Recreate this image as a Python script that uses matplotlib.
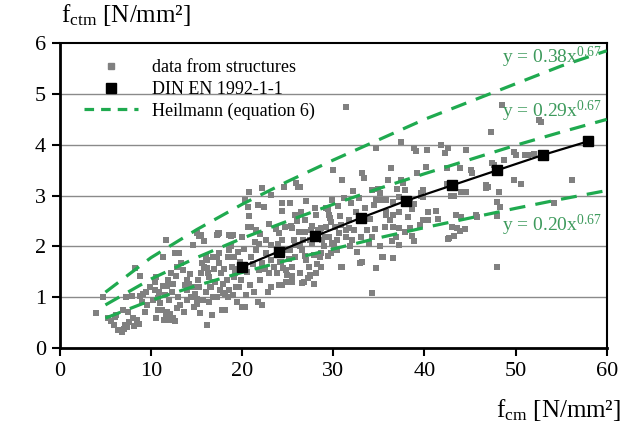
import numpy as np
import matplotlib
matplotlib.use('Agg')
import matplotlib.pyplot as plt
from matplotlib.lines import Line2D

plt.rcParams['font.family'] = ['Liberation Serif', 'DejaVu Serif']
plt.rcParams['mathtext.fontset'] = 'custom'
plt.rcParams['mathtext.rm'] = 'Liberation Serif'
plt.rcParams['mathtext.it'] = 'Liberation Serif'

# data from structures (fcm, fctm)
pts = [
    (4.0,0.69),(4.7,1.0),(5.3,0.59),(5.6,0.53),(6.2,0.65),(6.4,0.35),(6.8,0.32),(7.1,0.45),(7.4,0.42),(7.6,0.52),
    (8.0,0.59),(8.1,0.43),(8.5,0.55),(8.7,0.48),(9.3,0.71),(7.5,0.71),(7.3,1.0),(7.9,1.03),(8.8,1.03),(9.1,1.06),
    (8.2,1.57),(8.8,1.41),(9.9,1.2),(6.0,0.62),(6.9,0.75),(9.6,0.85),(9.0,0.9),(5.9,0.45),(7.0,0.38),(9.5,1.1),
    (10.4,1.14),(10.4,1.3),(10.6,1.4),(10.8,0.98),(10.8,0.75),(11.2,0.75),(11.6,0.65),(11.8,0.71),(12.0,0.56),(12.4,0.59),
    (12.6,0.53),(11.3,1.79),(11.7,2.12),(11.3,1.23),(11.8,1.23),(12.4,1.26),(12.2,1.47),(12.7,1.41),(12.6,1.87),(13.1,1.87),
    (12.9,1.6),(13.3,1.67),(13.5,1.54),(13.9,1.34),(13.9,1.14),(14.2,1.27),(14.4,1.0),(14.8,1.06),(10.2,0.95),(10.9,1.1),
    (11.5,1.05),(11.0,0.88),(12.0,0.95),(12.3,1.1),(13.0,1.0),(13.2,0.85),(12.8,0.78),(13.6,0.72),(14.0,0.95),(14.6,1.2),
    (14.3,1.45),(13.7,1.25),(11.9,1.35),(10.5,0.6),(11.4,0.55),(12.1,0.68),(14.7,0.8),
    (15.0,0.87),(15.1,0.97),(15.3,1.2),(15.5,1.47),(14.6,2.03),(15.0,2.26),(15.3,2.2),(15.8,2.1),(16.0,1.8),(15.6,1.67),
    (16.2,1.57),(16.4,1.4),(16.6,1.2),(16.8,1.0),(16.2,0.45),(17.2,2.22),(17.5,2.26),(17.2,1.8),(17.5,1.67),(17.7,1.47),
    (17.9,1.27),(18.1,1.06),(18.1,0.75),(18.4,1.8),(18.8,2.0),(18.9,1.6),(19.1,1.4),(19.3,1.2),(18.8,2.2),(17.8,0.75),
    (19.7,1.2),(19.2,1.47),(18.6,1.14),(17.9,1.08),(17.2,1.01),(16.5,1.2),(16.3,1.47),(15.8,1.6),(16.1,1.73),(16.8,1.8),
    (17.5,1.87),(18.6,1.93),(19.1,1.8),(19.8,1.7),(19.0,2.22),(17.3,2.26),(15.5,2.22),(17.4,2.25),(18.6,2.22),(15.2,1.35),
    (16.0,1.1),(16.9,1.55),(17.0,1.3),(18.3,1.35),(18.0,1.55),(19.5,1.55),(19.9,1.35),(19.4,0.9),(16.4,0.9),(15.7,0.95),
    (17.6,1.15),(18.5,1.0),(19.0,1.05),(19.6,1.9),(20.0,0.81),(16.7,0.65),(15.4,0.7),
    (20.8,3.07),(20.3,2.91),(20.6,2.78),(22.2,3.15),(21.7,2.81),(22.4,2.78),(23.2,3.01),(24.4,2.85),(24.4,2.69),(24.6,3.17),
    (21.0,2.38),(20.0,2.19),(21.5,2.32),(22.6,2.12),(23.2,2.03),(24.0,2.26),(24.7,2.38),(21.9,1.54),(22.2,1.67),(23.0,1.47),
    (23.2,1.21),(24.0,1.24),(24.8,1.31),(24.8,1.53),(22.2,0.85),(21.7,0.91),(20.3,0.81),(21.0,1.8),(21.5,1.93),(22.6,1.87),
    (23.2,1.73),(24.0,1.87),(24.9,1.93),(24.3,1.7),(23.8,1.47),(24.4,2.13),(24.2,1.7),(24.5,1.57),(24.4,1.24),(20.6,2.39),
    (21.4,2.09),(20.5,1.5),(20.9,1.25),(21.3,1.1),(22.0,1.35),(22.8,1.1),(23.5,1.6),(20.2,1.95),(21.8,2.05),(22.9,2.45),
    (23.7,2.35),(20.4,1.05),(21.2,1.65),(22.5,1.55),(23.9,2.05),(20.7,2.6),(22.0,2.25),
    (25.9,3.25),(26.1,3.17),(25.4,2.41),(25.8,2.62),(26.5,2.65),(26.9,2.52),(26.2,2.29),(26.9,2.29),(27.7,2.41),(28.1,2.62),
    (28.5,2.29),(29.2,2.75),(29.5,2.62),(29.8,2.49),(29.9,2.91),(28.1,1.47),(27.4,1.41),(26.6,1.28),(26.3,1.47),(25.5,1.41),
    (25.8,2.03),(26.6,1.93),(27.7,2.06),(28.8,2.12),(29.5,2.19),(29.7,1.87),(28.5,1.8),(27.0,1.73),(25.8,1.8),(25.5,1.6),
    (26.3,3.17),(26.5,2.68),(29.4,2.73),(29.6,2.56),(25.5,2.36),(27.6,2.32),(28.3,2.32),(28.7,2.36),(29.2,2.39),(29.1,2.19),
    (27.4,2.13),(26.7,2.13),(26.4,2.0),(25.7,2.13),(25.3,1.94),(26.9,1.81),(27.9,1.84),(28.7,1.87),(29.4,1.81),(28.2,1.65),
    (27.5,1.43),(27.2,1.37),(26.8,1.3),(27.9,1.26),(25.5,1.3),(24.9,1.43),(29.9,2.06),(27.0,2.9),(28.0,2.75),(25.2,2.85),
    (26.0,2.5),(29.0,2.0),(28.6,1.6),(27.3,1.6),(25.1,1.75),
    (30.2,2.39),(30.6,2.26),(31.4,2.32),(31.7,2.36),(32.1,2.12),(32.5,2.68),(33.1,2.52),(33.7,2.32),(33.2,3.44),(33.4,3.34),
    (34.3,3.11),(34.5,2.81),(34.7,3.94),(34.3,2.19),(33.2,1.69),(34.3,1.08),(34.7,1.57),(31.0,1.6),(30.1,2.03),(30.8,2.42),
    (31.7,2.52),(32.3,2.32),(33.0,2.19),(31.4,2.19),(30.4,2.13),(30.4,1.94),(30.9,1.6),(32.9,1.67),(31.4,4.74),(34.9,3.14),
    (34.7,2.91),(30.5,2.8),(31.2,2.95),(32.0,2.85),(32.8,2.95),(33.5,2.75),(34.0,2.55),(31.8,2.0),(32.6,1.9),(33.9,2.05),
    (30.0,3.5),(31.0,3.3),(32.2,3.1),(30.7,2.6),(34.6,2.35),
    (35.1,2.91),(35.8,2.68),(36.2,2.52),(36.3,3.54),(36.6,2.39),(36.9,2.19),(35.1,2.0),(37.4,4.06),(38.9,3.94),(39.1,3.88),
    (36.5,2.87),(35.8,2.91),(38.4,2.87),(38.9,2.84),(38.6,2.74),(38.2,2.58),(37.2,2.68),(36.5,2.62),(35.8,2.62),(39.5,2.42),
    (39.9,2.52),(38.4,2.36),(37.9,2.29),(38.6,2.2),(38.9,2.1),(37.2,2.36),(36.5,2.39),(35.7,2.39),(36.4,2.1),(37.2,2.03),
    (35.4,1.79),(36.5,1.77),(37.4,3.3),(37.0,3.14),(37.9,3.11),(37.2,2.98),(39.8,3.11),(39.6,3.0),(37.6,3.24),(35.5,2.91),
    (35.1,3.05),(39.6,3.05),(39.9,2.98),(35.5,1.8),(39.2,3.45),(36.0,3.3),
    (40.3,3.9),(41.8,4.0),(42.3,3.83),(42.6,3.94),(44.6,3.9),(40.2,3.57),(42.5,3.55),(43.9,3.55),(45.2,3.44),(46.8,3.15),
    (47.6,3.6),(48.7,3.7),(49.8,3.3),(48.2,3.07),(48.0,2.87),(48.3,2.77),(48.0,2.6),(44.0,3.07),(42.9,3.0),(42.5,3.22),
    (40.4,2.68),(41.3,2.7),(41.5,2.55),(43.5,2.62),(45.7,2.62),(40.4,2.52),(43.0,2.38),(43.9,2.31),(42.6,2.15),(48.0,1.6),
    (48.5,4.78),(47.3,4.25),(49.8,3.86),(45.1,3.5),(47.4,3.64),(47.0,3.17),(44.6,3.07),(43.3,3.0),(45.8,2.58),(44.0,2.58),
    (43.6,2.36),(44.4,2.35),(43.2,2.2),(42.7,2.16),(46.8,3.2),
    (50.6,3.22),(50.0,3.8),(51.0,3.8),(52.0,3.82),(56.2,3.3),(54.2,2.85),(52.6,4.49),(52.8,4.45),(51.4,3.8),
]
data_fcm = [p[0] for p in pts]
data_fctm = [p[1] for p in pts]

# DIN EN 1992-1-1
din_fcm = [20, 24, 28, 33, 38, 43, 48, 53, 58]
din_fctm = [1.6, 1.9, 2.2, 2.56, 2.9, 3.2, 3.5, 3.8, 4.07]

# Heilmann curves
heil_x = [5, 10, 15, 20, 25, 30, 35, 40, 45, 50, 55, 60]
heil_038 = [1.1, 1.78, 2.33, 2.83, 3.28, 3.7, 4.1, 4.5, 4.85, 5.2, 5.55, 5.85]
heil_029 = [0.85, 1.36, 1.78, 2.16, 2.5, 2.83, 3.14, 3.43, 3.71, 3.99, 4.25, 4.5]
heil_020 = [0.59, 0.94, 1.23, 1.49, 1.73, 1.95, 2.17, 2.37, 2.56, 2.75, 2.93, 3.1]

green = '#1faa4f'
tgreen = '#3d9a5c'

fig = plt.figure(figsize=(6.3, 4.23), dpi=100)
ax = fig.add_axes([0.095, 0.177, 0.868, 0.721])

for yv in [1, 2, 3, 4, 5]:
    ax.axhline(yv, color='#8a8a8a', lw=1.0, zorder=0)

ax.scatter(data_fcm, data_fctm, marker='s', s=24, color='#808080', lw=0, zorder=2)
ax.plot(din_fcm, din_fctm, color='black', lw=1.6, marker='s', ms=6.5, zorder=4)
for hy in [heil_038, heil_029, heil_020]:
    ax.plot(heil_x, hy, color=green, lw=2.3, dashes=(5, 3.2), zorder=3)

ax.text(59.5, 5.72, r'y = 0.38x$^{0.67}$', color=tgreen, fontsize=14, ha='right', va='center')
ax.text(59.5, 4.66, r'y = 0.29x$^{0.67}$', color=tgreen, fontsize=14, ha='right', va='center')
ax.text(59.5, 2.42, r'y = 0.20x$^{0.67}$', color=tgreen, fontsize=14, ha='right', va='center')

ax.set_xlim(0, 60)
ax.set_ylim(0, 6)
ax.set_xticks(range(0, 61, 10))
ax.set_yticks(range(0, 7))
ax.tick_params(direction='out', length=6, width=1.5, labelsize=16, pad=4)
for s in ['left', 'bottom']:
    ax.spines[s].set_linewidth(2)
for s in ['top', 'right']:
    ax.spines[s].set_linewidth(1.5)

handles = [
    Line2D([], [], ls='none', marker='s', ms=4, color='#808080'),
    Line2D([], [], ls='none', marker='s', ms=7, color='black'),
    Line2D([], [], color=green, lw=2.3, dashes=(3, 2.2)),
]
labels = ['data from structures', 'DIN EN 1992-1-1', 'Heilmann (equation 6)']
ax.legend(handles, labels, loc='upper left', bbox_to_anchor=(0.015, 1.0), frameon=False, fontsize=13,
          handlelength=3.0, labelspacing=0.25, handletextpad=0.75)

fig.text(0.097, 0.965, r'f$_{\mathrm{ctm}}$ [N/mm²]', fontsize=18, ha='left', va='center')
fig.text(0.985, 0.03, r'f$_{\mathrm{cm}}$ [N/mm²]', fontsize=18, ha='right', va='center')

fig.savefig('out.png', dpi=100)
